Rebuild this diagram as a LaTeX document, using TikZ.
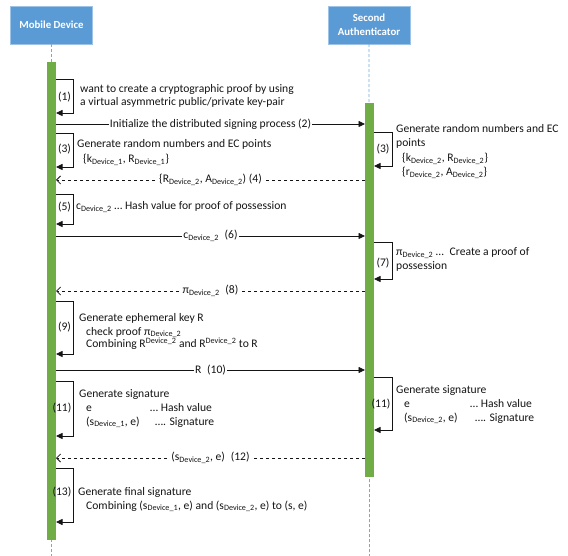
\documentclass[tikz,border=0pt]{standalone}
\usepackage{fontspec}
\setmainfont{Carlito}
\usetikzlibrary{arrows.meta}

\definecolor{hdrblue}{HTML}{5B9BD5}
\definecolor{bargreen}{HTML}{70AD47}
\definecolor{ink}{HTML}{141414}

\newcommand\bodyfont{\fontsize{11.6}{14}\selectfont}
\newcommand\dsub[1]{\textsubscript{#1}}
\newcommand\dsup[1]{\textsuperscript{#1}}

\tikzset{
  hdr/.style={draw=hdrblue!60, fill=hdrblue, text=white,
    font=\bfseries\fontsize{10.8}{14}\selectfont, align=center,
    minimum width=82pt, minimum height=38pt, inner sep=0pt},
  life/.style={draw=hdrblue!85, line width=0.8pt, dash pattern=on 3pt off 2pt},
  actbar/.style={fill=bargreen, draw=none, minimum width=9pt, inner sep=0pt},
  msg/.style={draw=ink, line width=0.8pt, -{Triangle[length=6.5pt,width=6pt]}},
  ret/.style={draw=ink, line width=0.8pt, dash pattern=on 3.5pt off 2.5pt,
    -{Straight Barb[length=4pt,width=8pt]}},
  lbl/.style={fill=white, inner sep=1pt, text=ink, font=\bodyfont},
  txt/.style={anchor=base west, inner sep=0pt, text=ink, font=\bodyfont},
  num/.style={inner sep=0pt, text=ink, font=\bodyfont},
}

\begin{document}
\begin{tikzpicture}[x=1pt,y=-1pt]
  \useasboundingbox (0,0) rectangle (568,556);

  % participants
  \node[hdr] (hdrM) at (51.5,25) {Mobile Device};
  \node[hdr] (hdrS) at (369,25) {Second\\Authenticator};

  % lifelines
  \coordinate (endM) at (51.5,556);
  \coordinate (endS) at (369.5,556);
  \draw[life] (hdrM.south) -- (endM);
  \draw[life] (hdrS.south) -- (endS);

  % activation bars
  \node[actbar, minimum height=478pt] (barM) at (51.5,301) {};
  \node[actbar, minimum height=374pt] (barS) at (369.5,290) {};

  % (1) self call on the mobile device
  \coordinate (l1a) at (56,79);  \coordinate (l1b) at (56,113);
  \draw[msg] (l1a) -- ++(17,0) |- (l1b);
  \node[num] (n1) at (64.5,97) {(1)};
  \node[txt] (t1a) at (80,93) {want to create a cryptographic proof by using};
  \node[txt] (t1b) at (80,106) {a virtual asymmetric public/private key-pair};

  % (2) initialise
  \coordinate (m2a) at (56,124); \coordinate (m2b) at (365,124);
  \draw[msg] (m2a) -- node[lbl] (t2) {Initialize the distributed signing process (2)} (m2b);

  % (3) random numbers on both sides
  \coordinate (l3a) at (56,133);  \coordinate (l3b) at (56,167);
  \draw[msg] (l3a) -- ++(17,0) |- (l3b);
  \node[num] (n3) at (64.5,149) {(3)};
  \node[txt] (t3a) at (77,148) {Generate random numbers and EC points};
  \node[txt] (t3b) at (83,163) {\{k\dsub{Device\_1}, R\dsub{Device\_1}\}};

  \coordinate (r3a) at (374,132);  \coordinate (r3b) at (374,166);
  \draw[msg] (r3a) -- ++(18,0) |- (r3b);
  \node[num] (n3s) at (383,149) {(3)};
  \node[txt] (s3a) at (396,133) {Generate random numbers and EC};
  \node[txt] (s3b) at (396,147) {points};
  \node[txt] (s3c) at (402,162) {\{k\dsub{Device\_2}, R\dsub{Device\_2}\}};
  \node[txt] (s3d) at (402,176) {\{r\dsub{Device\_2}, A\dsub{Device\_2}\}};

  % (4) return of the EC points
  \coordinate (m4a) at (365,180); \coordinate (m4b) at (56,180);
  \draw[ret] (m4a) -- node[lbl] (t4) {\{R\dsub{Device\_2}, A\dsub{Device\_2}) (4)} (m4b);

  % (5) hash value
  \coordinate (l5a) at (56,194);  \coordinate (l5b) at (56,224);
  \draw[msg] (l5a) -- ++(17,0) |- (l5b);
  \node[num] (n5) at (64.5,207) {(5)};
  \node[txt] (t5) at (76,210) {c\dsub{Device\_2} \ldots\ Hash value for proof of possession};

  % (6) send hash
  \coordinate (m6a) at (56,236); \coordinate (m6b) at (365,236);
  \draw[msg] (m6a) -- node[lbl] (t6) {c\dsub{Device\_2}\enspace(6)} (m6b);

  % (7) proof of possession
  \coordinate (r7a) at (374,242);  \coordinate (r7b) at (374,279);
  \draw[msg] (r7a) -- ++(18,0) |- (r7b);
  \node[num] (n7) at (383,263) {(7)};
  \node[txt] (s7a) at (396,256) {π\dsub{Device\_2} \ldots\enspace Create a proof of};
  \node[txt] (s7b) at (396,270) {possession};

  % (8) return proof
  \coordinate (m8a) at (365,291); \coordinate (m8b) at (56,291);
  \draw[ret] (m8a) -- node[lbl] (t8) {π\dsub{Device\_2}\enspace(8)} (m8b);

  % (9) ephemeral key
  \coordinate (l9a) at (56,301);  \coordinate (l9b) at (56,354);
  \draw[msg] (l9a) -- ++(17,0) |- (l9b);
  \node[num] (n9) at (64.5,327) {(9)};
  \node[txt] (t9a) at (79,321) {Generate ephemeral key R};
  \node[txt] (t9b) at (86,335) {check proof π\dsub{Device\_2}};
  \node[txt] (t9c) at (86,348) {Combining R\dsup{Device\_2} and R\dsup{Device\_2} to R};

  % (10) send R
  \coordinate (m10a) at (56,370); \coordinate (m10b) at (365,370);
  \draw[msg] (m10a) -- node[lbl] (t10) {R\enspace(10)} (m10b);

  % (11) signatures on both sides
  \coordinate (l11a) at (56,381);  \coordinate (l11b) at (56,436);
  \draw[msg] (l11a) -- ++(17,0) |- (l11b);
  \node[num] (n11) at (62,408) {(11)};
  \node[txt] (t11a) at (79,397) {Generate signature};
  \node[txt] (t11b) at (86,411) {e};
  \node[txt] (t11c) at (150,411) {\ldots\ Hash value};
  \node[txt] (t11d) at (86,425) {(s\dsub{Device\_1}, e)};
  \node[txt] (t11e) at (155,425) {\ldots. Signature};

  \coordinate (r11a) at (374,377);  \coordinate (r11b) at (374,430);
  \draw[msg] (r11a) -- ++(18,0) |- (r11b);
  \node[num] (n11s) at (381,404) {(11)};
  \node[txt] (s11a) at (396,393) {Generate signature};
  \node[txt] (s11b) at (404,407) {e};
  \node[txt] (s11c) at (470,407) {\ldots\ Hash value};
  \node[txt] (s11d) at (404,421) {(s\dsub{Device\_2}, e)};
  \node[txt] (s11e) at (475,421) {\ldots. Signature};

  % (12) return partial signature
  \coordinate (m12a) at (365,458); \coordinate (m12b) at (56,458);
  \draw[ret] (m12a) -- node[lbl] (t12) {(s\dsub{Device\_2}, e)\enspace(12)} (m12b);

  % (13) final signature
  \coordinate (l13a) at (56,468);  \coordinate (l13b) at (56,522);
  \draw[msg] (l13a) -- ++(17,0) |- (l13b);
  \node[num] (n13) at (62,492) {(13)};
  \node[txt] (t13a) at (78,495) {Generate final signature};
  \node[txt] (t13b) at (86,509) {Combining (s\dsub{Device\_1}, e) and (s\dsub{Device\_2}, e) to (s, e)};
\end{tikzpicture}
\end{document}
